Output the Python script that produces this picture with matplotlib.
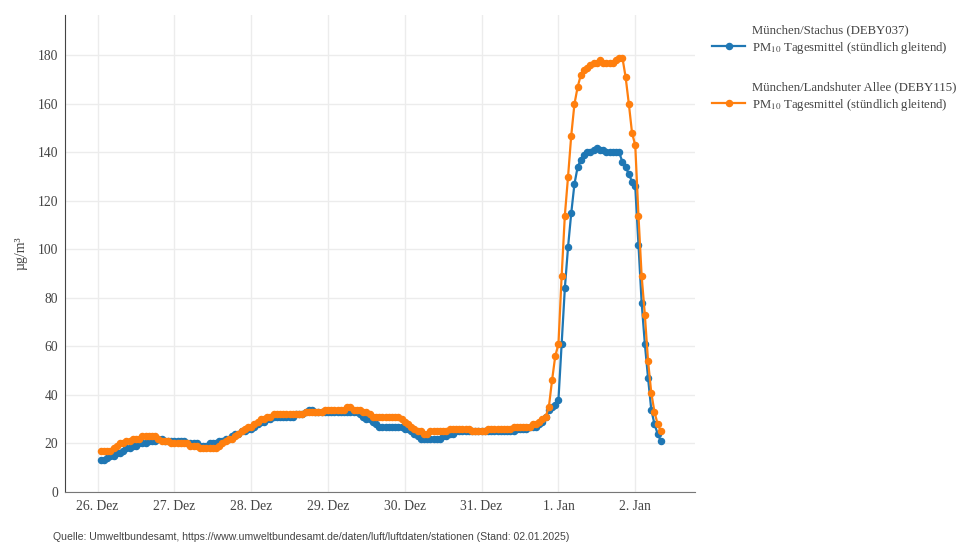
import numpy as np
import pandas as pd
import matplotlib
matplotlib.use("Agg")
import matplotlib.pyplot as plt
from matplotlib.lines import Line2D

plt.rcParams['font.family'] = ['Liberation Serif', 'DejaVu Serif']
plt.rcParams['mathtext.fontset'] = 'stix'

# hourly running daily mean PM10, 26.12.2024 01:00 .. 02.01.2025 08:00
times = pd.date_range("2024-12-26 01:00", "2025-01-02 08:00", freq="h")

stachus = [
    13, 13, 14, 15, 15, 16, 16, 17, 18, 18,
    19, 19, 20, 20, 20, 21, 21, 21, 22, 22,
    21, 21, 21, 21, 21, 21, 21, 20, 20, 20,
    20, 19, 19, 19, 20, 20, 20, 21, 21, 22,
    22, 23, 24, 24, 25, 25, 26, 26, 27, 28,
    29, 29, 30, 30, 31, 31, 31, 31, 31, 31,
    31, 32, 32, 32, 33, 34, 34, 33, 33, 33,
    33, 33, 33, 33, 33, 33, 33, 33, 33, 33,
    33, 32, 31, 30, 30, 29, 28, 27, 27, 27,
    27, 27, 27, 27, 27, 26, 26, 25, 24, 23,
    22, 22, 22, 22, 22, 22, 22, 23, 23, 24,
    24, 25, 25, 25, 25, 25, 25, 25, 25, 25,
    25, 25, 25, 25, 25, 25, 25, 25, 25, 25,
    26, 26, 26, 26, 27, 27, 27, 28, 29, 31,
    34, 35, 36, 38, 61, 84, 101, 115, 127, 134,
    137, 139, 140, 140, 141, 142, 141, 141, 140, 140,
    140, 140, 140, 136, 134, 131, 128, 126, 102, 78,
    61, 47, 34, 28, 24, 21,
]

landshuter = [
    17, 17, 17, 17, 18, 19, 20, 20, 21, 21,
    22, 22, 22, 23, 23, 23, 23, 23, 22, 21,
    21, 21, 20, 20, 20, 20, 20, 20, 19, 19,
    19, 18, 18, 18, 18, 18, 18, 19, 20, 21,
    22, 22, 23, 24, 25, 26, 27, 27, 28, 29,
    30, 30, 31, 31, 32, 32, 32, 32, 32, 32,
    32, 32, 32, 32, 33, 33, 33, 33, 33, 33,
    34, 34, 34, 34, 34, 34, 34, 35, 35, 34,
    34, 34, 33, 33, 32, 31, 31, 31, 31, 31,
    31, 31, 31, 31, 30, 29, 28, 27, 26, 25,
    25, 24, 24, 25, 25, 25, 25, 25, 25, 26,
    26, 26, 26, 26, 26, 26, 25, 25, 25, 25,
    25, 26, 26, 26, 26, 26, 26, 26, 26, 27,
    27, 27, 27, 27, 27, 28, 28, 29, 30, 31,
    35, 46, 56, 61, 89, 114, 130, 147, 160, 167,
    172, 174, 175, 176, 177, 177, 178, 177, 177, 177,
    177, 178, 179, 179, 171, 160, 148, 143, 114, 89,
    73, 54, 41, 33, 28, 25,
]

day_ticks = pd.date_range("2024-12-26", "2025-01-02", freq="D")
day_labels = ["26. Dez", "27. Dez", "28. Dez", "29. Dez", "30. Dez",
              "31. Dez", "1. Jan", "2. Jan"]
y_ticks = [0, 20, 40, 60, 80, 100, 120, 140, 160, 180]

blue = "#1f77b4"
orange = "#ff7f0e"
txt = "#444444"

fig = plt.figure(figsize=(9.66, 5.43), dpi=100)
ax = fig.add_axes([65 / 966, 1 - 492 / 543, 630 / 966, 477 / 543])

ax.plot(times, stachus, color=blue, lw=1.6, marker="o", ms=4.4, zorder=3)
ax.plot(times, landshuter, color=orange, lw=1.6, marker="o", ms=4.4, zorder=4)

ax.set_xlim(pd.Timestamp("2024-12-25 13:50"), pd.Timestamp("2025-01-02 18:40"))
ax.set_ylim(0, 196.7)
ax.set_xticks(day_ticks)
ax.set_xticklabels(day_labels)
ax.set_yticks(y_ticks)

ax.grid(True, color="#ececec", lw=1)
ax.set_axisbelow(True)
for s in ["top", "right"]:
    ax.spines[s].set_visible(False)
ax.spines["left"].set_color("#444444")
ax.spines["bottom"].set_color("#777777")
ax.tick_params(length=0, labelsize=9.8, colors=txt)
ax.tick_params(axis="y", pad=5)
ax.tick_params(axis="x", pad=6)
ax.set_ylabel("µg/m³", fontsize=10, color=txt, labelpad=7)

# legend, one block per station
blank = Line2D([], [], lw=0, marker=None)
h1 = Line2D([], [], color=blue, lw=1.6, marker="o", ms=4.4)
h2 = Line2D([], [], color=orange, lw=1.6, marker="o", ms=4.4)
lab = "PM$_{10}$ Tagesmittel (stündlich gleitend)"
leg_kw = dict(loc="upper left", frameon=False, fontsize=9.2, handlelength=2.6,
              handletextpad=0.5, labelspacing=0.3, borderaxespad=0,
              borderpad=0, labelcolor=txt)
fig.legend([blank, h1], ["München/Stachus (DEBY037)", lab],
           bbox_to_anchor=(712 / 966, 1 - 24 / 543), **leg_kw)
fig.legend([blank, h2], ["München/Landshuter Allee (DEBY115)", lab],
           bbox_to_anchor=(712 / 966, 1 - 81 / 543), **leg_kw)

fig.text(53 / 966, 1 - 537 / 543,
         "Quelle: Umweltbundesamt, https://www.umweltbundesamt.de/daten/luft/luftdaten/stationen (Stand: 02.01.2025)",
         family="Liberation Sans", fontsize=7.6, color=txt, va="center")

fig.savefig("out.png", dpi=100)
